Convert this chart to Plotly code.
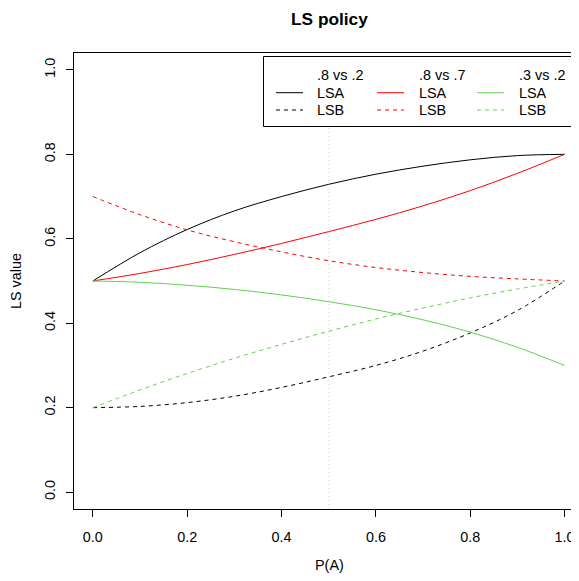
import plotly.graph_objects as go

# ---- data ----
P_A = [0.0, 0.1, 0.2, 0.3, 0.4, 0.5, 0.6, 0.7, 0.8, 0.9, 1.0]
LSA_82 = [0.5, 0.567, 0.622, 0.666, 0.700, 0.729, 0.753, 0.772, 0.787, 0.797, 0.8]
LSB_82 = [0.2, 0.203, 0.212, 0.227, 0.248, 0.273, 0.300, 0.334, 0.377, 0.430, 0.5]
LSA_87 = [0.5, 0.518, 0.539, 0.563, 0.589, 0.617, 0.646, 0.678, 0.714, 0.755, 0.8]
LSB_87 = [0.7, 0.657, 0.621, 0.593, 0.569, 0.548, 0.532, 0.520, 0.511, 0.505, 0.5]
LSA_32 = [0.5, 0.497, 0.490, 0.480, 0.467, 0.451, 0.432, 0.408, 0.379, 0.343, 0.3]
LSB_32 = [0.2, 0.242, 0.281, 0.317, 0.350, 0.381, 0.410, 0.436, 0.460, 0.481, 0.5]

GROUPS = [".8 vs .2", ".8 vs .7", ".3 vs .2"]
SERIES_NAMES = ["LSA", "LSB"]
X_TICKS = [0.0, 0.2, 0.4, 0.6, 0.8, 1.0]
X_TICKTEXT = ["0.0", "0.2", "0.4", "0.6", "0.8", "1.0"]
Y_TICKS = [0.0, 0.2, 0.4, 0.6, 0.8, 1.0]
Y_TICKTEXT = ["0.0", "0.2", "0.4", "0.6", "0.8", "1.0"]
TITLE = "LS policy"
X_TITLE = "P(A)"
Y_TITLE = "LS value"
VLINE_AT = 0.5

COLORS = ["#000000", "#FF0000", "#61D04F"]
DASH_B = "4px,4px"
FONT = "Liberation Sans, Arial, Helvetica, sans-serif"
FS = 14.4
FS_TITLE = 17.3

# page body has an 8px default margin; work in window pixels and shift
OFF = 8
WIN_W, WIN_H = 579, 581
W, H = WIN_W - OFF, WIN_H - OFF
# plot area in window pixels
PL, PR, PT, PB = 74, 579, 53, 509
ML, MT = PL - OFF, PT - OFF
MR = W - (PR - OFF)
MB = H - (PB - OFF)
PW = PR - PL
PH = PB - PT


def fx(px):
    return (px - PL) / PW


def fy(py):
    return (PB - py) / PH


fig = go.Figure()
data = [(LSA_82, LSB_82), (LSA_87, LSB_87), (LSA_32, LSB_32)]
for (a, b), col in zip(data, COLORS):
    fig.add_trace(go.Scatter(x=P_A, y=a, mode="lines",
                             line=dict(color=col, width=1, shape="spline"),
                             showlegend=False, hoverinfo="skip"))
    fig.add_trace(go.Scatter(x=P_A, y=b, mode="lines",
                             line=dict(color=col, width=1, dash=DASH_B, shape="spline"),
                             showlegend=False, hoverinfo="skip"))

shapes = []
# vertical dotted reference line
shapes.append(dict(type="line", xref="x", yref="paper", x0=VLINE_AT, x1=VLINE_AT,
                   y0=0, y1=1, line=dict(color="#d3d3d3", width=1, dash="1px,3px"),
                   layer="below"))

# legend box
shapes.append(dict(type="rect", xref="paper", yref="paper",
                   x0=fx(263.5), x1=fx(571.5), y0=fy(126.5), y1=fy(56.5),
                   fillcolor="white", line=dict(color="black", width=1), layer="above"))

annotations = []
col_line_x = [276, 377, 477]
col_text_x = [315, 416.5, 516.5]
row_y = [75.5, 92.7, 110]
for g, col, lx, tx in zip(GROUPS, COLORS, col_line_x, col_text_x):
    annotations.append(dict(text=g, xref="paper", yref="paper", x=fx(tx), y=fy(row_y[0]),
                            xanchor="left", yanchor="middle", showarrow=False,
                            font=dict(size=FS, color="black", family=FONT)))
    for i, nm in enumerate(SERIES_NAMES):
        yy = fy(row_y[i + 1])
        shapes.append(dict(type="line", xref="paper", yref="paper",
                           x0=fx(lx), x1=fx(lx + 27), y0=yy, y1=yy,
                           line=dict(color=col, width=1, dash=("solid" if i == 0 else DASH_B)),
                           layer="above"))
        annotations.append(dict(text=nm, xref="paper", yref="paper", x=fx(tx), y=yy,
                                xanchor="left", yanchor="middle", showarrow=False,
                                font=dict(size=FS, color="black", family=FONT)))

# title and axis titles
annotations.append(dict(text="<b>%s</b>" % TITLE, xref="paper", yref="paper",
                        x=fx(329), y=fy(19), xanchor="center", yanchor="middle",
                        showarrow=False, font=dict(size=FS_TITLE, color="black", family=FONT)))
annotations.append(dict(text=X_TITLE, xref="paper", yref="paper",
                        x=fx(329), y=fy(565), xanchor="center", yanchor="middle",
                        showarrow=False, font=dict(size=FS, color="black", family=FONT)))
annotations.append(dict(text=Y_TITLE, xref="paper", yref="paper",
                        x=fx(16), y=fy(281), xanchor="center", yanchor="middle",
                        textangle=-90, showarrow=False,
                        font=dict(size=FS, color="black", family=FONT)))

x_lo = -0.04
x_hi = x_lo + PW / 471.7

fig.update_layout(
    width=W, height=H,
    margin=dict(l=ML, r=MR, t=MT, b=MB, autoexpand=False),
    paper_bgcolor="white", plot_bgcolor="white",
    font=dict(family=FONT, size=FS, color="black"),
    shapes=shapes, annotations=annotations,
    showlegend=False,
    xaxis=dict(range=[x_lo, x_hi], tickvals=X_TICKS, ticktext=X_TICKTEXT,
               showgrid=False, zeroline=False, showline=True, linecolor="black",
               linewidth=1, mirror=True, ticks="outside", ticklen=7, tickwidth=1,
               tickcolor="black", ticklabelstandoff=8,
               tickfont=dict(size=FS, family=FONT, color="black")),
    yaxis=dict(range=[-0.04, 1.04], tickvals=Y_TICKS, ticktext=Y_TICKTEXT,
               showgrid=False, zeroline=False, showline=True, linecolor="black",
               linewidth=1, mirror=False, ticks="outside", ticklen=7, tickwidth=1,
               tickcolor="black", tickangle=-90, ticklabelstandoff=5,
               tickfont=dict(size=FS, family=FONT, color="black")),
)

fig.write_html("out.html")
